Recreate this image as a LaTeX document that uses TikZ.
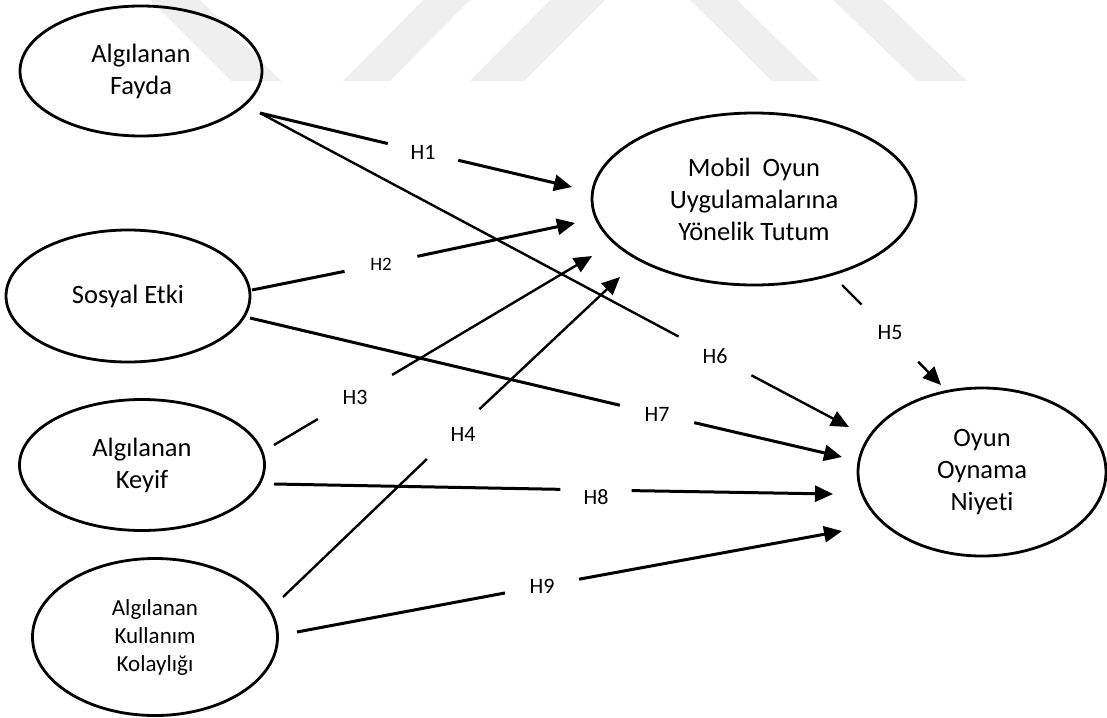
\documentclass[tikz,border=0pt]{standalone}
\usepackage{fontspec}
\setmainfont{Carlito}[Ligatures={NoCommon}]
\usetikzlibrary{shapes.geometric,arrows.meta}
\definecolor{wm}{RGB}{239,239,239}
\begin{document}
\begin{tikzpicture}[x=1pt,y=-1pt,
  ell/.style={draw,ellipse,line width=2.8pt,inner sep=0pt,align=center,font=\fontsize{26.5}{32}\selectfont},
  hlab/.style={circle,inner sep=0pt,font=\fontsize{22}{26}\selectfont},
  conn/.style={line width=3.0pt},
  connlight/.style={line width=2.4pt},
  arr/.style={-{Triangle[length=18pt,width=16pt]}}
]
\useasboundingbox (0,0) rectangle (1107,717);
\fill[white] (0,0) rectangle (1107,717);
% watermark bands
\fill[wm] (150,0) -- (200,0) -- (281,81) -- (231,81) -- cycle;
\fill[wm] (423,0) -- (470,0) -- (390,81) -- (343,81) -- cycle;
\fill[wm] (550,0) -- (605,0) -- (524,81) -- (470,81) -- cycle;
\fill[wm] (690,0) -- (737,0) -- (820,81) -- (772,81) -- cycle;
\fill[wm] (833,0) -- (883,0) -- (967,81) -- (917,81) -- cycle;

% construct nodes
\node[ell,minimum width=242pt,minimum height=130pt] (fayda) at (141,71) {Algılanan\\Fayda};
\node[ell,minimum width=244pt,minimum height=132pt] (sosyal) at (128,296) {Sosyal Etki};
\node[ell,minimum width=245pt,minimum height=131pt] (keyif) at (142,465) {Algılanan\\Keyif};
\node[ell,minimum width=245pt,minimum height=157pt,font=\fontsize{23}{28}\selectfont] (kolay) at (155,637) {Algılanan\\Kullanım\\Kolaylığı};
\node[ell,minimum width=324pt,minimum height=172pt] (tutum) at (754,199) {Mobil\ \ Oyun\\Uygulamalarına\\Yönelik Tutum};
\node[ell,minimum width=248pt,minimum height=168pt] (niyet) at (982,472) {Oyun\\Oynama\\Niyeti};

% connector end points
\coordinate (s1) at (260,113);
\coordinate (e1) at (572,187);
\coordinate (e6) at (849,427);
\coordinate (s2) at (252,290);
\coordinate (e2) at (575,223);
\coordinate (s7) at (250,318);
\coordinate (e7) at (842,457);
\coordinate (s3) at (274,445);
\coordinate (e3) at (592,256);
\coordinate (s4) at (283,597);
\coordinate (e4) at (620,277);
\coordinate (s5) at (842,285);
\coordinate (e5) at (941,385);
\coordinate (s8) at (274,484);
\coordinate (e8) at (833,494);
\coordinate (s9) at (297,632);
\coordinate (e9) at (842,531);

% labels (they also open the gaps in the lines)
\node[hlab,minimum size=72pt] (l1) at (423,152) {H1};
\node[hlab,minimum size=82pt] (l6) at (715,356) {H6};
\node[hlab,minimum size=74pt,font=\fontsize{19}{22}\selectfont] (l2) at (381,264) {H2};
\node[hlab,minimum size=76pt] (l7) at (657,414) {H7};
\node[hlab,minimum size=86pt] (l3) at (355,397) {H3};
\node[hlab,minimum size=72pt] (l4) at (453,434) {\hspace*{20pt}H4};
\node[hlab,minimum size=80pt] (l5) at (890,333) {H5};
\node[hlab,minimum size=71pt] (l8) at (596,490) {\rule{0pt}{30pt}H8};
\node[hlab,minimum size=75pt] (l9) at (542,586) {H9};

% connectors
\draw[conn] (s1) -- (l1);
\draw[conn,arr] (l1) -- (e1);
\draw[connlight] (s1) -- (l6);
\draw[connlight,arr] (l6) -- (e6);
\draw[conn] (s2) -- (l2);
\draw[conn,arr] (l2) -- (e2);
\draw[conn] (s7) -- (l7);
\draw[conn,arr] (l7) -- (e7);
\draw[connlight] (s3) -- (l3);
\draw[connlight,arr] (l3) -- (e3);
\draw[connlight] (s4) -- (l4);
\draw[connlight,arr] (l4) -- (e4);
\draw[connlight] (s5) -- (l5);
\draw[connlight,arr] (l5) -- (e5);
\draw[conn] (s8) -- (l8);
\draw[conn,arr] (l8) -- (e8);
\draw[conn] (s9) -- (l9);
\draw[conn,arr] (l9) -- (e9);
\end{tikzpicture}
\end{document}
